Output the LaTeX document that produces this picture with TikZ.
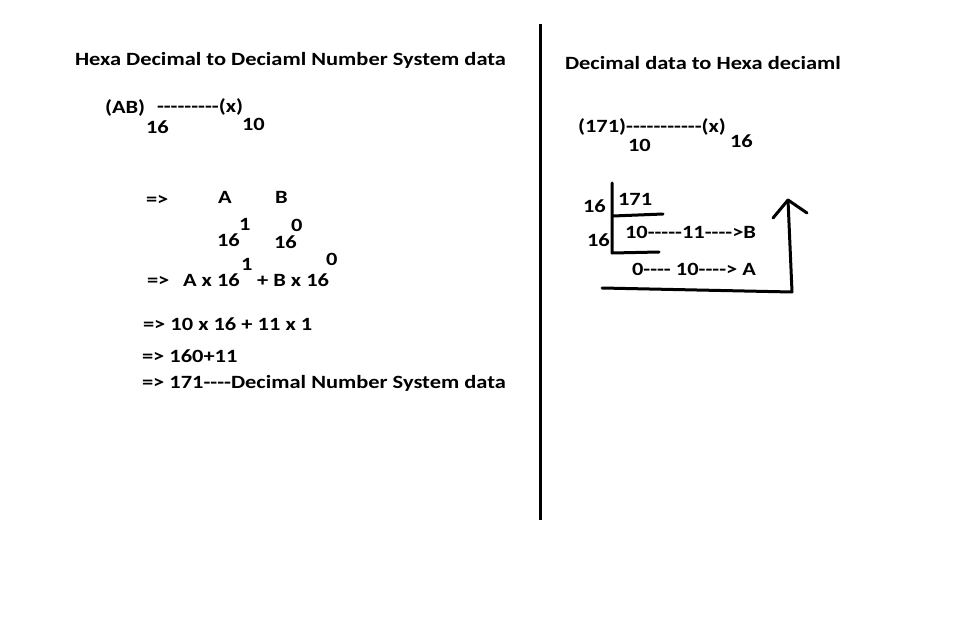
\documentclass[tikz,border=0pt]{standalone}
\usepackage{fontspec}
\setmainfont{Carlito}[Ligatures=TeXOff,FakeStretch=1.2]
\begin{document}
\begin{tikzpicture}[x=1pt,y=-1pt,
  txt/.style={anchor=base west,inner sep=0pt,outer sep=0pt,font=\fontsize{18.7}{22}\selectfont\bfseries},
  pen/.style={line width=3pt,line cap=round,line join=round}]
\useasboundingbox[fill=white] (0,0) rectangle (957,620);
% divider
\coordinate (d1) at (540,24);
\coordinate (d2) at (540,520);
\draw[pen,line cap=butt] (d1) -- (d2);
% left side
\node[txt] (t1) at (75,66) {Hexa Decimal to Deciaml Number System data};
\node[txt] (ab) at (105,114) {(AB)};
\node[txt] (ab16) at (146,134) {16};
\node[txt] (abx) at (157,113) {---------(x)};
\node[txt] (ab10) at (242,131) {10};
\node[txt] (ar1) at (146,206) {=>};
\node[txt] (la) at (218,204) {A};
\node[txt] (lb) at (275,204) {B};
\node[txt] (p1) at (217,247) {16};
\node[txt] (e1) at (239,230) {1};
\node[txt] (p0) at (274,248) {16};
\node[txt] (e0) at (291,231) {0};
\node[txt] (ar2) at (147,286) {=>};
\node[txt] (s1) at (183,286) {A x 16};
\node[txt] (s1e) at (241,270) {1};
\node[txt] (s2) at (257,286) {+ B x 16};
\node[txt] (s2e) at (326,265) {0};
\node[txt] (l3) at (143,330) {=> 10 x 16 + 11 x 1};
\node[txt] (l4) at (142,362) {=> 160+11};
\node[txt] (l5) at (142,388) {=> 171----Decimal Number System data};
% right side
\node[txt] (t2) at (565,70) {Decimal data to Hexa deciaml};
\node[txt] (n171) at (578,133) {(171)-----------(x)};
\node[txt] (n10) at (628,152) {10};
\node[txt] (n16) at (730,148) {16};
\node[txt] (q1) at (583,212) {16};
\node[txt] (q171) at (618,206) {171};
\node[txt] (q2) at (587,247) {16};
\node[txt] (r1) at (625,238) {10-----11---->B};
\node[txt] (r2) at (632,275) {0---- 10----> A};
% division lines
\coordinate (v1) at (612,183);
\coordinate (v2) at (612,253);
\coordinate (v3) at (659,252);
\coordinate (u1) at (613,216);
\coordinate (u2) at (663,214);
\draw[pen] (v1) -- (v2) -- (v3);
\draw[pen] (u1) -- (u2);
% return arrow
\coordinate (b1) at (602,288);
\coordinate (b2) at (792,292);
\coordinate (b3) at (788,200);
\coordinate (h1) at (773,218);
\coordinate (h2) at (807,213);
\draw[pen] (b1) -- (b2) -- (b3);
\draw[pen] (h1) -- (b3) -- (h2);
\end{tikzpicture}
\end{document}
